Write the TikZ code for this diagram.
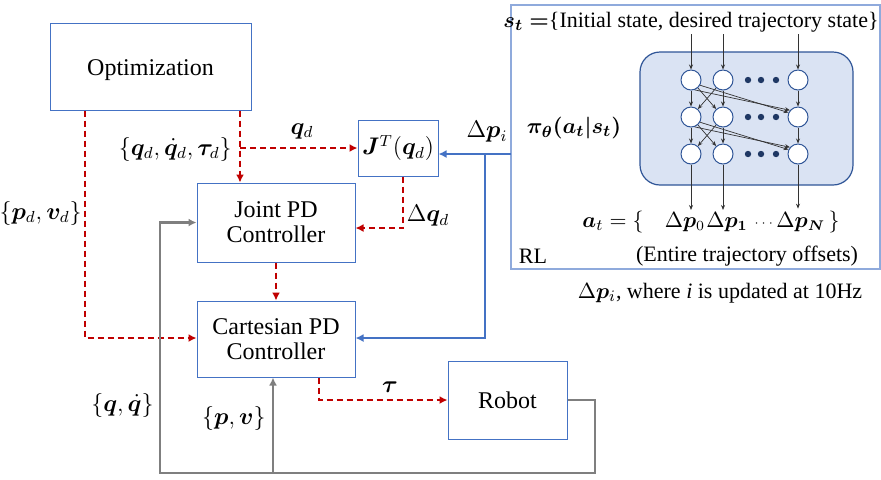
\documentclass[tikz,border=0pt,12pt]{standalone}
\usepackage{amsmath,amssymb}
\usepackage{bm}
\usepackage{fontspec}
\setmainfont{Liberation Serif}
\usetikzlibrary{positioning,calc,arrows.meta}

\definecolor{boxblue}{RGB}{68,114,196}
\definecolor{ctrlred}{RGB}{192,0,0}
\definecolor{fbgray}{RGB}{127,127,127}
\definecolor{rlframe}{RGB}{143,170,220}
\definecolor{netfill}{RGB}{218,227,243}
\definecolor{netedge}{RGB}{47,85,151}
\definecolor{netdot}{RGB}{31,56,100}

\begin{document}
\begin{tikzpicture}[x=0.5pt, y=-0.5pt,
  blk/.style={draw=boxblue, line width=0.5pt, fill=white, inner sep=0pt, align=center, font=\fontsize{12}{12.5}\selectfont},
  lbl/.style={inner sep=1pt, font=\fontsize{11.5}{13}\selectfont},
  rltext/.style={inner sep=1pt, font=\fontsize{11}{13}\selectfont},
  cmd/.style={draw=ctrlred, line width=1pt, dash pattern=on 3pt off 2pt, -{Latex[length=4pt,width=4pt]}},
  fb/.style={draw=fbgray, line width=1.3pt, -{Latex[length=4pt,width=4pt]}},
  upd/.style={draw=boxblue, line width=1.3pt, -{Latex[length=4pt,width=4pt]}},
  neuron/.style={circle, draw=netedge, fill=white, line width=0.5pt, minimum size=10pt, inner sep=0pt},
  syn/.style={draw=black!80, line width=0.35pt, -{Stealth[length=2.5pt,width=2pt]}}]
  \useasboundingbox (0,0) rectangle (881,479);

  % Blocks
  \node[blk, minimum width=100.5pt, minimum height=43.5pt, text height=12pt] (opt) at (150.5,66.5) {Optimization};
  \node[blk, minimum width=79pt, minimum height=39.5pt] (joint) at (276,222.5) {Joint PD\\Controller};
  \node[blk, minimum width=79pt, minimum height=38pt] (cart) at (276,339) {Cartesian PD\\Controller};
  \node[blk, minimum width=40pt, minimum height=28pt] (jac) at (398,148) {$\bm{J}^T(\bm{q}_d)$};
  \node[blk, minimum width=59.5pt, minimum height=39pt] (robot) at (507.5,400) {Robot};

  % RL policy frame
  \node[draw=rlframe, line width=0.6pt, minimum width=184.5pt, minimum height=132pt, inner sep=0pt] (rl) at (695.5,137) {};
  \node[rltext] (rltag) at (533,256) {RL};
  \node[draw=netedge, fill=netfill, line width=0.6pt, rounded corners=10pt, minimum width=106.5pt, minimum height=66.5pt] (net) at (746.5,118.5) {};
  \node[rltext] (st) at (691,22) {$\bm{s_t=}$\{Initial state, desired trajectory state\}};
  \node[rltext] (pol) at (574,128) {$\bm{\pi_\theta(a_t|s_t)}$};

  % Network layers
  \foreach \c/\x in {1/691, 2/723, N/798}
    \foreach \r/\y in {1/80, 2/117, 3/154}
      \node[neuron] (n\r\c) at (\x,\y) {};
  \foreach \y in {80,117,154}
    \foreach \x in {748,761,776}
      \fill[netdot] (\x,\y) circle (1.6pt);
  \foreach \r/\s in {1/2, 2/3} {
    \foreach \a/\b in {1/1, 1/2, 2/1, 2/2, N/N}
      \draw[syn] (n\r\a) -- (n\s\b);
    \draw[syn] (n\r1.290) -- (n\s N.140);
    \draw[syn] (n\r1.330) -- (n\s N.155);
  }

  % Network inputs and outputs
  \node[rltext] (atl) at (613,222) {$\bm{a}_t=\{$};
  \node[rltext, font=\fontsize{10.5}{12}\selectfont] (o1) at (685,222) {$\Delta\bm{p}_0$};
  \node[rltext, font=\fontsize{10.5}{12}\selectfont] (o2) at (727,222) {$\Delta\bm{p_1}$};
  \node[rltext, font=\tiny] (odots) at (765,224) {$\cdots$};
  \node[rltext, font=\fontsize{10.5}{12}\selectfont] (oN) at (808,222) {$\Delta\bm{p}_{\bm{N}}\,\}$};
  \foreach \c in {1,2,N} {
    \draw[syn] (n1\c |- st.south) -- (n1\c);
  }
  \draw[syn] (n31) -- (n31 |- o1.north);
  \draw[syn] (n32) -- (n32 |- o2.north);
  \draw[syn] (n3N) -- (n3N |- oN.north);
  \node[rltext] (offs) at (747,256) {(Entire trajectory offsets)};
  \node[rltext] (rate) at (720,293) {$\Delta\bm{p}_i$, where \textit{i} is updated at 10Hz};

  % Desired references (red dashed)
  \coordinate (pvbend) at (85,338);
  \draw[cmd] (pvbend |- opt.south) -- (pvbend) -- (pvbend -| cart.west);
  \coordinate (qtap) at (240,148);
  \draw[cmd] (qtap |- opt.south) -- (qtap |- joint.north);
  \draw[cmd] (qtap) -- (qtap -| jac.west);
  \coordinate (dqbend) at (403,228);
  \draw[cmd] (dqbend |- jac.south) -- (dqbend) -- (dqbend -| joint.east);
  \draw[cmd] (joint.south) -- (cart.north);
  \coordinate (taubend) at (319,400);
  \draw[cmd] (taubend |- cart.south) -- (taubend) -- (taubend -| robot.west);

  % Offsets from RL (blue)
  \coordinate (dpin) at (511,154);
  \draw[upd] (dpin) -- (dpin -| jac.east);
  \coordinate (dpbend) at (485,338);
  \draw[upd] (dpbend |- dpin) -- (dpbend) -- (dpbend -| cart.east);

  % Robot feedback (gray)
  \coordinate (fbr) at (595,473);
  \coordinate (fbl) at (160,473);
  \coordinate (pvtap) at (273,473);
  \draw[fb] (robot.east) -| (fbr) -- (fbl) |- (joint.west);
  \draw[fb] (pvtap) -- (pvtap |- cart.south);

  % Signal labels
  \node[lbl, anchor=east] (lpvd) at (84,213) {$\{\bm{p}_d, \bm{v}_d\}$};
  \node[lbl, anchor=east] (lqd3) at (234,149) {$\{\bm{q}_d, \dot{\bm{q}}_d, \bm{\tau}_d\}$};
  \node[lbl] (lqd) at (302,131) {$\bm{q}_d$};
  \node[lbl] (ldq) at (428,216) {$\Delta\bm{q}_d$};
  \node[lbl] (ldp) at (487,132) {$\Delta\bm{p}_i$};
  \node[lbl] (ltau) at (390,387) {$\bm{\tau}$};
  \node[lbl, anchor=east] (lpv) at (268,418) {$\{\bm{p}, \bm{v}\}$};
  \node[lbl, anchor=east] (lqfb) at (156,405) {$\{\bm{q}, \dot{\bm{q}}\}$};
\end{tikzpicture}
\end{document}
